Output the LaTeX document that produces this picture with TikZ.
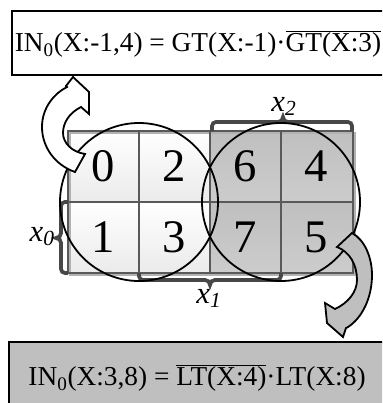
\documentclass[tikz,border=0pt]{standalone}
\usepackage{fontspec}
\setmainfont{Liberation Serif}
\newfontfamily\digitfont{Liberation Serif}
\begin{document}
\begin{tikzpicture}[x=0.75pt,y=-0.75pt,
  cellL/.style={top color=white, bottom color=black!8, draw=none},
  cellG/.style={top color=black!25, bottom color=black!20, draw=none},
  gridln/.style={draw=black!65, line width=1.1pt},
  brace/.style={draw=black!72, line width=2.8pt, rounded corners=3pt},
  bracetip/.style={draw=black!72, line width=2.8pt, line join=miter},
  digit/.style={font=\digitfont\fontsize{35}{40}\selectfont, inner sep=0pt},
  lbl/.style={font=\digitfont\fontsize{23}{26}\selectfont\itshape, inner sep=0pt},
  eq/.style={font=\digitfont\fontsize{20.5}{24}\selectfont, inner sep=0pt},
  circ/.style={draw=black, line width=1.35pt, circle, minimum size=118.5pt, inner sep=0pt},
  barrow/.style={draw=black, line width=1.35pt, line join=miter}
]
\useasboundingbox (0,0) rectangle (382,403);
\clip (0,0) rectangle (382,403);

% top box
\draw[line width=1.6pt] (12,11) rectangle (392,75);
\node[eq] (eqtop) at (198,44) {IN\textsubscript{0}(X:-1,4) = GT(X:-1)\textperiodcentered$\overline{\mbox{GT(X:3)}}$};

% bottom box
\draw[line width=1.6pt, fill=black!25] (9,342) rectangle (392,412);
\node[eq] (eqbot) at (197,378) {IN\textsubscript{0}(X:3,8) = $\overline{\mbox{LT(X:4)}}$\textperiodcentered LT(X:8)};

% cells
\foreach \x in {68,139} {
  \path[cellL] (\x,131) rectangle ++(71,71);
  \path[cellL] (\x,202) rectangle ++(71,71);
}
\foreach \x in {210,281} {
  \path[cellG] (\x,131) rectangle ++(71,71);
  \path[cellG] (\x,202) rectangle ++(71,71);
}
\draw[draw=black!30, line width=0.8pt] (70,133) rectangle (355,275);
\draw[gridln] (68,131) rectangle (353,273);
\draw[gridln] (139,131) -- (139,273) (210,131) -- (210,273) (281,131) -- (281,273) (68,202) -- (353,202);

% digits
\node[digit] (d0) at (103.5,166.5) {0};
\node[digit] (d2) at (174.5,166.5) {2};
\node[digit] (d6) at (245.5,166.5) {6};
\node[digit] (d4) at (316.5,166.5) {4};
\node[digit] (d1) at (103.5,237.5) {1};
\node[digit] (d3) at (174.5,237.5) {3};
\node[digit] (d7) at (245.5,237.5) {7};
\node[digit] (d5) at (316.5,237.5) {5};

% braces
\draw[brace] (212,131) -- (212,122) -- (279,122);
\draw[brace] (287,122) -- (352,122) -- (352,131);
\draw[bracetip] (278,122) .. controls (281,122) and (283,120) .. (283,117) .. controls (283,120) and (285,122) .. (288,122);

\draw[brace] (68,202) -- (61,202) -- (61,234);
\draw[brace] (61,242) -- (61,273) -- (68,273);
\draw[bracetip] (61,233) .. controls (61,236) and (59,238) .. (56,238) .. controls (59,238) and (61,240) .. (61,243);

\draw[brace] (139,273) -- (139,280) -- (206,280);
\draw[brace] (214,280) -- (281,280) -- (281,273);
\draw[bracetip] (205,280) .. controls (208,280) and (210,282) .. (210,285) .. controls (210,282) and (212,280) .. (215,280);

% labels
\node[lbl, anchor=base] (x2) at (284,111) {x\textsubscript{2}};
\node[lbl, anchor=base east] (x0) at (55,241) {x\textsubscript{0}};
\node[lbl, anchor=base] (x1) at (209,303) {x\textsubscript{1}};

% circles
\node[circ] (cl) at (139,202) {};
\node[circ] (cr) at (281,202) {};

% white curved arrow
\draw[barrow, fill=white] (75,172) .. controls (55,165) and (42,147) .. (42,127)
  .. controls (42,107) and (55,93) .. (67,87) -- (66,86) -- (73,77) -- (89,92) -- (89,114) -- (81,107)
  .. controls (69,113) and (63,123) .. (63,133) .. controls (63,143) and (72,152) .. (85,154) -- cycle;

% gray curved arrow
\draw[barrow, fill=black!25] (352,233) .. controls (365,240) and (372,258) .. (372,275)
  .. controls (372,298) and (362,318) .. (348,327) -- (346,328) -- (343,337) -- (327,323) -- (325,303) -- (335,309)
  .. controls (348,303) and (357,292) .. (357,280) .. controls (357,265) and (350,252) .. (337,247) -- cycle;
\end{tikzpicture}
\end{document}
